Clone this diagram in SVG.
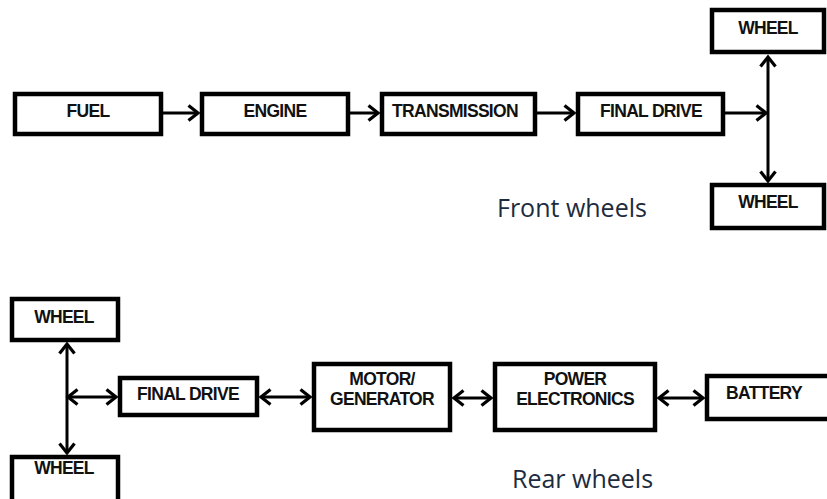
<svg xmlns="http://www.w3.org/2000/svg" width="827" height="499" viewBox="0 0 827 499">
<defs>
<style>
.box{fill:#fff;stroke:#000;stroke-width:4.5}
.lbl{font-family:"Liberation Sans",Arial,sans-serif;font-weight:bold;font-size:17.5px;letter-spacing:-0.7px;fill:#111;text-anchor:middle}
.cap{font-family:"Open Sans","Noto Sans",sans-serif;font-size:25px;fill:#1c2b3e}
.con{stroke:#000;stroke-width:3;fill:none}
</style>
<marker id="ah" markerUnits="userSpaceOnUse" markerWidth="16" markerHeight="20" refX="12" refY="10" orient="auto-start-reverse">
<path d="M2.5,2.5 L12,10 L2.5,17.5" fill="none" stroke="#000" stroke-width="3.2"/>
</marker>
</defs>
<rect width="827" height="499" fill="#fff"/>
<g id="connectors">
<line class="con" x1="163" y1="113" x2="198" y2="113" marker-end="url(#ah)"/>
<line class="con" x1="350" y1="113" x2="378" y2="113" marker-end="url(#ah)"/>
<line class="con" x1="537" y1="113" x2="574" y2="113" marker-end="url(#ah)"/>
<line class="con" x1="725" y1="113" x2="766" y2="113" marker-end="url(#ah)"/>
<line class="con" x1="768" y1="57" x2="768" y2="181" marker-start="url(#ah)" marker-end="url(#ah)"/>
<line class="con" x1="67" y1="344" x2="67" y2="453" marker-start="url(#ah)" marker-end="url(#ah)"/>
<line class="con" x1="68" y1="397" x2="116" y2="397" marker-start="url(#ah)" marker-end="url(#ah)"/>
<line class="con" x1="261" y1="397" x2="310" y2="397" marker-start="url(#ah)" marker-end="url(#ah)"/>
<line class="con" x1="454" y1="398" x2="491" y2="398" marker-start="url(#ah)" marker-end="url(#ah)"/>
<line class="con" x1="659" y1="398" x2="703" y2="398" marker-start="url(#ah)" marker-end="url(#ah)"/>
</g>
<g id="fuel"><rect class="box" x="15" y="94" width="146" height="40"/><text class="lbl" x="88" y="117">FUEL</text></g>
<g id="engine"><rect class="box" x="202" y="94" width="146" height="40"/><text class="lbl" x="275" y="117">ENGINE</text></g>
<g id="transmission"><rect class="box" x="382" y="94" width="153" height="40"/><text class="lbl" x="455" y="117">TRANSMISSION</text></g>
<g id="final-drive-front"><rect class="box" x="578" y="94" width="145" height="40"/><text class="lbl" x="651" y="117">FINAL DRIVE</text></g>
<g id="wheel-front-top"><rect class="box" x="712" y="10" width="112" height="42"/><text class="lbl" x="768" y="34">WHEEL</text></g>
<g id="wheel-front-bottom"><rect class="box" x="712" y="185" width="112" height="43"/><text class="lbl" x="768" y="208">WHEEL</text></g>
<text class="cap" x="497" y="217">Front wheels</text>
<g id="wheel-rear-top"><rect class="box" x="12" y="299" width="106" height="41"/><text class="lbl" x="64" y="323">WHEEL</text></g>
<g id="wheel-rear-bottom"><rect class="box" x="12" y="457" width="106" height="50"/><text class="lbl" x="64" y="474">WHEEL</text></g>
<g id="final-drive-rear"><rect class="box" x="120" y="378" width="137" height="37"/><text class="lbl" x="188" y="400">FINAL DRIVE</text></g>
<g id="motor-generator"><rect class="box" x="314" y="364" width="136" height="66"/><text class="lbl" x="382" y="385">MOTOR/</text><text class="lbl" x="382" y="405">GENERATOR</text></g>
<g id="power-electronics"><rect class="box" x="495" y="364" width="160" height="66"/><text class="lbl" x="575" y="385">POWER</text><text class="lbl" x="575" y="405">ELECTRONICS</text></g>
<g id="battery"><rect class="box" x="707" y="376" width="125" height="43"/><text class="lbl" x="764" y="399">BATTERY</text></g>
<text class="cap" x="512" y="488">Rear wheels</text>
</svg>
